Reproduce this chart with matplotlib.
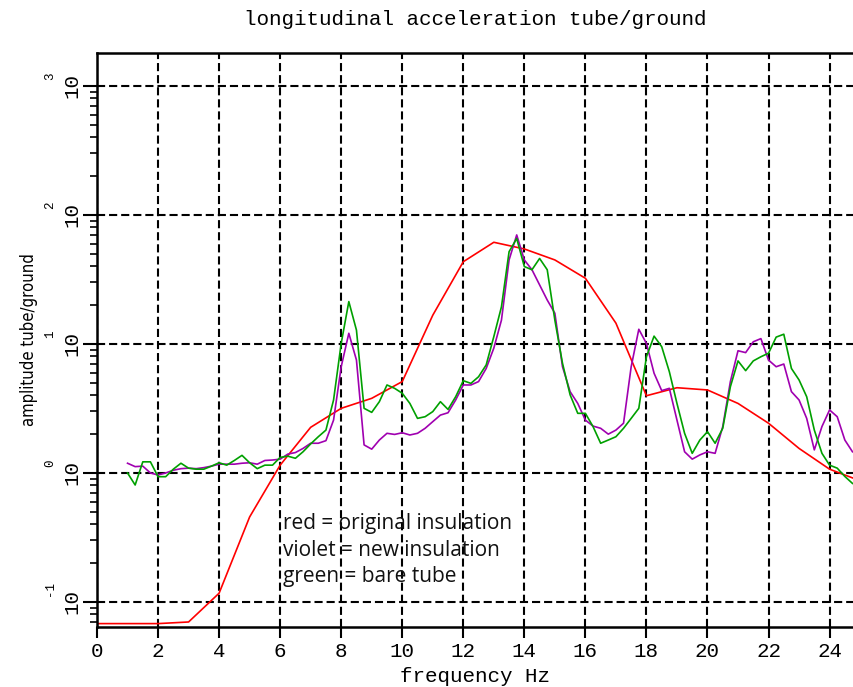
import numpy as np
from matplotlib import pyplot as plt
from matplotlib.ticker import LogLocator, NullFormatter, FixedFormatter, FixedLocator

# red = original insulation, sampled at 1 Hz
freq_red = [0, 2, 3, 4, 5, 6, 7, 8, 9, 10, 11, 12, 13, 14, 15, 16, 17, 18, 19, 20, 21, 22, 23, 24, 25]
amp_red = [0.068, 0.068, 0.070, 0.117, 0.456, 1.15, 2.26, 3.17, 3.79, 5.11, 16.7, 43.4, 61.4, 54.5, 44.8,
           32.3, 14.5, 3.97, 4.58, 4.40, 3.46, 2.43, 1.55, 1.07, 0.87]

# violet / green, sampled at 0.25 Hz from 1 Hz
freq_fine = [1 + 0.25 * i for i in range(96)]
amp_violet = [1.19, 1.12, 1.13, 1.00, 0.965, 1.00, 1.05, 1.08, 1.09, 1.08, 1.10, 1.13, 1.17, 1.17, 1.17, 1.19,
              1.20, 1.17, 1.25, 1.26, 1.28, 1.40, 1.44, 1.55, 1.70, 1.70, 1.78, 2.57, 6.66, 12.1, 7.5, 1.65,
              1.53, 1.80, 2.03, 1.99, 2.05, 1.97, 2.03, 2.22, 2.50, 2.81, 2.93, 3.68, 4.81, 4.81, 5.11, 6.46,
              9.28, 15.3, 44.8, 70.0, 44.8, 37.6, 28.7, 21.9, 17.3, 6.66, 4.27, 3.46, 2.57, 2.31, 2.22, 2.00,
              2.15, 2.43, 6.66, 13.0, 10.1, 5.93, 4.35, 4.53, 2.57, 1.46, 1.28, 1.38, 1.46, 1.42, 2.29, 5.11,
              8.86, 8.57, 10.4, 11.0, 7.5, 6.66, 6.99, 4.27, 3.68, 2.65, 1.51, 2.29, 3.08, 2.73, 1.80, 1.46]
amp_green = [1.00, 0.807, 1.22, 1.22, 0.936, 0.936, 1.07, 1.19, 1.09, 1.07, 1.07, 1.13, 1.20, 1.15, 1.25, 1.37,
             1.20, 1.08, 1.15, 1.15, 1.32, 1.35, 1.30, 1.46, 1.68, 1.91, 2.15, 3.68, 10.1, 21.3, 12.8, 3.17,
             2.95, 3.57, 4.81, 4.53, 4.15, 3.46, 2.65, 2.73, 2.99, 3.57, 3.11, 3.90, 5.19, 4.95, 5.57, 6.88,
             11.4, 19.4, 51.9, 65.7, 39.8, 37.6, 46.0, 37.6, 15.3, 7.09, 4.03, 2.90, 2.90, 2.29, 1.70, 1.80,
             1.91, 2.22, 2.65, 3.17, 7.96, 11.5, 9.53, 6.10, 3.46, 2.03, 1.42, 1.80, 2.09, 1.70, 2.22, 4.66,
             7.39, 6.21, 7.39, 7.96, 8.48, 11.3, 11.9, 6.46, 5.26, 3.90, 2.15, 1.42, 1.15, 1.09, 0.94, 0.83]

x_ticks = list(range(0, 25, 2))
y_decades = [-1, 0, 1, 2, 3]

mono = "Liberation Mono"

fig = plt.figure(figsize=(8.54, 6.87), dpi=100)
ax = fig.add_axes([97 / 854, 1 - 627 / 687, 1 - 97 / 854, (627 - 53) / 687])

ax.plot(freq_red, amp_red, color="#ff0000", lw=1.2)
ax.plot(freq_fine, amp_violet, color="#a000b0", lw=1.2)
ax.plot(freq_fine, amp_green, color="#00a000", lw=1.2)

ax.set_yscale("log")
ax.set_xlim(0, 24.8)
ax.set_ylim(0.064, 1800)

ax.set_xticks(x_ticks)
ax.set_xticklabels([str(t) for t in x_ticks], family=mono, fontsize=15)
ax.yaxis.set_major_locator(FixedLocator([10.0 ** k for k in y_decades]))
ax.yaxis.set_major_formatter(FixedFormatter(["10"] * len(y_decades)))
ax.yaxis.set_minor_locator(LogLocator(base=10, subs=np.arange(2, 10), numticks=20))
ax.yaxis.set_minor_formatter(NullFormatter())
for lab in ax.get_yticklabels():
    lab.set_rotation(90)
    lab.set_va("center")
    lab.set_family(mono)
    lab.set_fontsize(15)

ax.tick_params(axis="x", direction="out", length=8, width=1.5, pad=3)
ax.tick_params(axis="y", which="major", direction="out", length=10, width=1.5, pad=1)
ax.tick_params(axis="y", which="minor", direction="out", length=5, width=1.2)

# exponents drawn beside the rotated "10"
for k in y_decades:
    ax.annotate(str(k), xy=(0, 10.0 ** k), xycoords=("axes fraction", "data"),
                xytext=(-47, 6), textcoords="offset pixels", rotation=90,
                ha="center", va="bottom", family=mono, fontsize=9)

ax.grid(True, which="major", color="black", lw=1.5, linestyle=(0, (3.9, 1.9)))

for side in ["left", "bottom", "top"]:
    ax.spines[side].set_linewidth(1.8)
ax.spines["right"].set_visible(False)

ax.set_title("longitudinal acceleration tube/ground", family=mono, fontsize=15, pad=20)
ax.set_xlabel("frequency Hz", family=mono, fontsize=15, labelpad=4)
ax.set_ylabel("amplitude tube/ground", family="DejaVu Sans", fontstretch="condensed",
              fontsize=12, labelpad=18)

ax.text(0.2457, 0.198, "red = original insulation\nviolet = new insulation\ngreen = bare tube",
        transform=ax.transAxes, ha="left", va="top", family="Open Sans", fontsize=15,
        linespacing=1.33, color="#111111")

fig.savefig("out.png", dpi=100)
